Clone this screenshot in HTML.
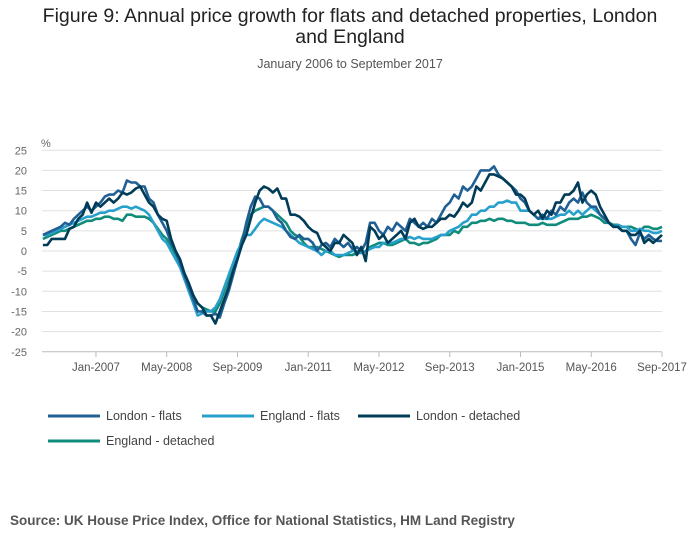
<!DOCTYPE html>
<html><head><meta charset="utf-8">
<style>
body{margin:0;background:#fff;font-family:"Liberation Sans",sans-serif;}
#wrap{position:relative;width:700px;height:549px;overflow:hidden;}
.t{position:absolute;left:0;width:700px;text-align:center;}
</style></head><body>
<div id="wrap">
<div class="t" style="top:6px;font-size:19.5px;line-height:21px;color:#222;">Figure 9: Annual price growth for flats and detached properties, London<br>and England</div>
<div class="t" style="top:57px;font-size:12.5px;color:#555;">January 2006 to September 2017</div>
<svg id="chart" width="700" height="549" style="position:absolute;left:0;top:0"></svg>
<div style="position:absolute;left:10px;top:513px;font-size:13.5px;font-weight:bold;color:#555;">Source: UK House Price Index, Office for National Statistics, HM Land Registry</div>
</div>
<script>
const yTicks=[25,20,15,10,5,0,-5,-10,-15,-20,-25];
const xLabels=["Jan-2007","May-2008","Sep-2009","Jan-2011","May-2012","Sep-2013","Jan-2015","May-2016","Sep-2017"];
const xLabelMonths=[12,28,44,60,76,92,108,124,140];
const seriesNames=["London - flats","England - flats","London - detached","England - detached"];
const londonFlats=[4,4.5,5,5.5,6,7,6.5,8,9,10,11,10,
11,12,13.5,14,14,15,14.5,17.5,17,17,16,16,
13,12,9,7,5,2,0,-3,-6,-9,-12,-15,
-15,-16,-16,-15.5,-16.5,-13,-10,-6,-2,2,7,11,
13.5,13,11,11,10,8,7,5,3.5,3,4,3,
3,2,0,1.5,2,1,3,2,1,2,0.5,1,
0,2,7,7,5,4,6,5,7,6,5,8,
7,6,7,6,8,7,9,11,12,14,13,16,
15,16,18,20,20,20,21,19,18,17,16,15,
13,12,10,9,8,9,8,10,9,11,10,12,
13,12,14.5,12,11,11,9,8,7,6,6,5,
5,3,1.5,4.5,3,4,3,2.5,2.5];
const englandFlats=[4,4,4.5,5,5.5,6,6.5,7,7.5,8,8.5,8.5,
9,9.5,9.5,10,10,10.5,11,11,10.5,11,10.5,10,
9,7,5,3,2,0,-2,-4,-7,-10,-13,-16,
-15.5,-15,-15,-14,-12,-9,-6,-3,0,2,4,4,
5.5,7,8,7.5,7,6.5,6,5,4,3,2,1.5,
1,0.5,0,-1,0,0,-1,-1,-1,-0.5,0,0,
-0.5,0,0.5,1,1,2,2,2,2.5,3,3,3.5,
3,3.5,3,3,3,3.5,4,4,5,5.5,6,7,
7.5,9,9,10,10,11,11,12,12,12.5,12,12,
10,10,10,9,8,8,8,8,8.5,9,9,10,
9,10,9,10,11,10,9,8,7,6,6.5,6,
6,5,5,5.5,5,5,4.5,4.5,5];
const londonDetached=[1.5,1.5,3,3,3,3,5.5,6,8,9,12,9.5,
12,11,12,13,12,13,14.5,14,14.5,15.5,16,14,
12,11,9,8,7.5,3,0,-2,-5.5,-8,-11,-13,
-14,-16,-16,-18,-15,-12,-9,-5,-2,1.5,4,8,
12,15,16,15.5,14.5,15.5,13,13,9,9,8.5,7.5,
6,5,4.5,2,1,0,2,2,4,3,2,-1,
1,-2.5,6,5,3,4,2,3,4,5,3,7,
8,6,5.5,6,6,7,8,8,9,8.5,10,12,
11,12,16,15,17,19,19,18.5,18,17,16,14,
14,13,10,9,10,8,10,9,12,12,14,14,
15,17,12,14,15,14,11,9,7,6,6,5,
5,4,4,5,2,3,2,3,4];
const englandDetached=[3,3.5,4,4.5,5,5,5.5,6,6.5,7,7.5,7.5,
8,8,8.5,8.5,8,8,7.5,9,9,8.5,8.5,8.5,
8,7,5.5,4,3,1,-1,-3,-6,-9,-12,-13,
-14,-14.5,-15,-15,-13,-10,-7,-4,-1,3,6,9,
10,10.5,11,11,10,9,8,7,5,4,3.5,2,
1,1,1,0.5,0,-0.5,-1,-1.5,-1,-1,-1,-0.5,
-0.5,0,1,1.5,2,2,1.5,1.5,2,2.5,3,2,
2,1.5,2,2,2.5,3,4,4,4,5,4.5,6,
6,7,7,7.5,7.5,8,7.5,8,8,7.5,7.5,7,
7,7,6.5,6.5,6.5,7,6.5,6.5,6.5,7,7.5,8,
8,8,8.5,8.5,9,8.5,8,7,7,6.5,6.5,6,
6,6,5.5,5,6,6,5.5,5.5,6];
const colors=["#206095","#27a0cc","#003c57","#118c7b"];
const seriesData=[londonFlats,englandFlats,londonDetached,englandDetached];
const drawOrder=[3,1,0,2];

const NS="http://www.w3.org/2000/svg";
const svg=document.getElementById('chart');
const X0=42.9,X1=662,Y0=251,PU=4.03;
const nMonths=140;
function xs(m){return X0+(X1-X0)*m/nMonths;}
function ys(v){return Y0-v*PU;}
function mk(tag,attrs){const e=document.createElementNS(NS,tag);for(const k in attrs)e.setAttribute(k,attrs[k]);svg.appendChild(e);return e;}

yTicks.forEach(v=>{
  const l=mk('line',{x1:42,x2:X1,y1:ys(v),y2:ys(v),stroke:v===-25?'#bbb':'#e0e0e0','stroke-width':1});
  
  
  const t=mk('text',{x:27,y:ys(v)+4,'text-anchor':'end','font-size':11,fill:'#666','font-family':'Liberation Sans, sans-serif'});
  t.textContent=v;
  
  
});
const pct=mk('text',{x:41,y:147,'font-size':11,fill:'#666','font-family':'Liberation Sans, sans-serif'});
pct.textContent='%';



xLabels.forEach((lab,i)=>{
  const x=xs(xLabelMonths[i]);
  const tk=mk('line',{x1:x,x2:x,y1:352,y2:357,stroke:'#bbb'});
  
  
  const t=mk('text',{x:x,y:371,'text-anchor':'middle','font-size':11.5,fill:'#555','font-family':'Liberation Sans, sans-serif'});
  t.textContent=lab;
  
  
});

drawOrder.forEach(si=>{
  const d=seriesData[si].map((v,m)=>(m?'L':'M')+xs(m).toFixed(1)+','+ys(v).toFixed(1)).join('');
  const p=mk('path',{d:d,fill:'none',stroke:colors[si],'stroke-width':2.6,'stroke-linejoin':'round'});
  
  
});

const legPos=[[48,416],[202,416],[358,416],[48,441]];
seriesNames.forEach((n,i)=>{
  const [lx,ly]=legPos[i];
  const l=mk('line',{x1:lx,x2:lx+52,y1:ly,y2:ly,stroke:colors[i],'stroke-width':3});
  
  
  const t=mk('text',{x:lx+58,y:ly+4,'font-size':12.5,fill:'#444','font-family':'Liberation Sans, sans-serif'});
  t.textContent=n;
  
  
});
</script>
</body></html>
